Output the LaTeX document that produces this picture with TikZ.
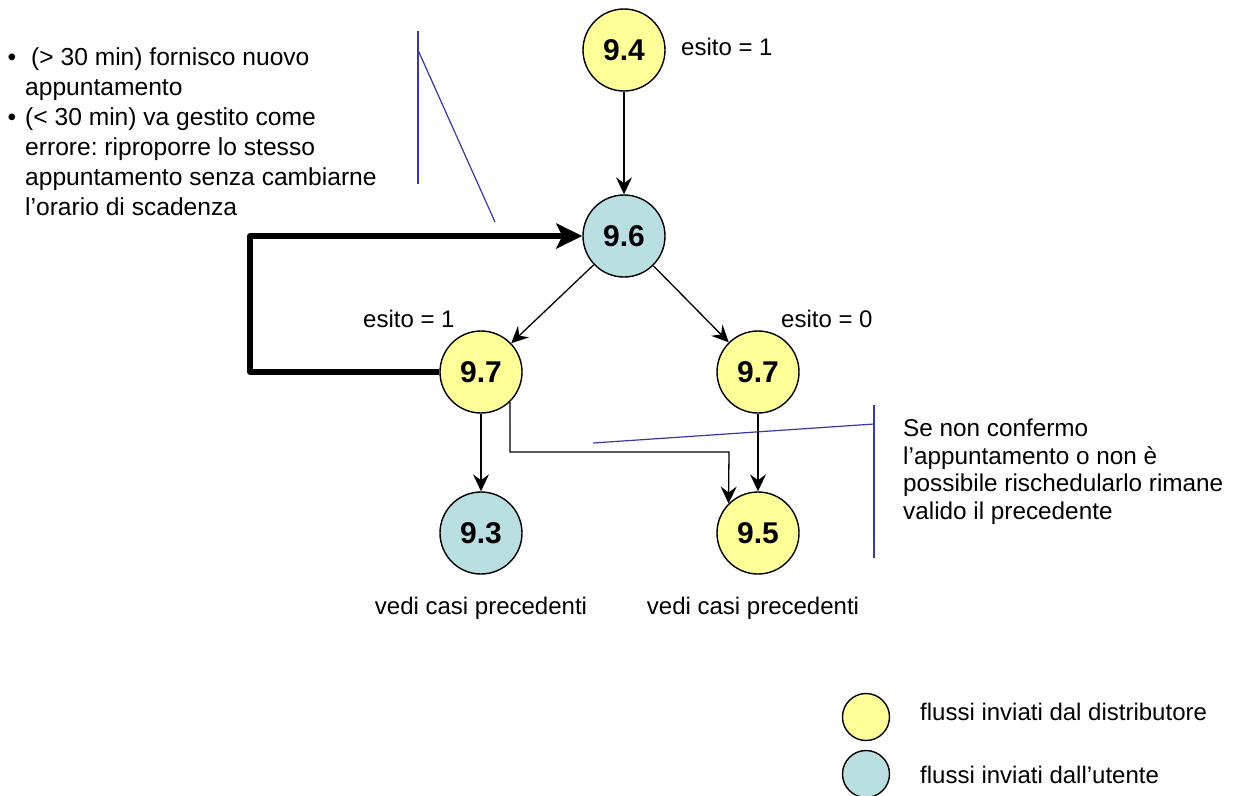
\documentclass[tikz,border=0pt]{standalone}
\usepackage{fontspec}
\setmainfont{Liberation Sans}
\usetikzlibrary{arrows.meta}
\definecolor{ylw}{HTML}{FFFF99}
\definecolor{tl}{HTML}{B9DFE3}
\definecolor{cline}{HTML}{3737A8}
\frenchspacing
\begin{document}
\begin{tikzpicture}[x=1pt,y=-1pt,
  st/.style={circle,draw=black,line width=1.4pt,minimum size=82pt,inner sep=0pt,font=\fontsize{30}{30}\selectfont\bfseries},
  yl/.style={st,fill=ylw},
  bl/.style={st,fill=tl},
  leg/.style={circle,draw=black,line width=1.4pt,minimum size=47pt,inner sep=0pt},
  arr/.style={line width=1.3pt,-{Stealth[length=17pt,width=16pt,inset=6pt]}},
  bigarr/.style={line width=5.5pt,line join=round,-{Stealth[length=26pt,width=25pt,inset=6pt]}},
  lbl/.style={font=\fontsize{24}{27.8}\selectfont,inner sep=0pt},
  call/.style={draw=cline,line width=1.2pt}]
\useasboundingbox (0,0) rectangle (1241,795);

\coordinate (lt) at (250,236);
\coordinate (bend) at (729,452);

\node[yl] (n94) at (624,50) {9.4};
\node[bl] (n96) at (624,236) {9.6};
\node[yl] (l97) at (481,372) {9.7};
\node[yl] (r97) at (758,372) {9.7};
\node[bl] (n93) at (481,533) {9.3};
\node[yl] (n95) at (758,533) {9.5};

\draw[arr] (n94) -- (n96);
\draw[arr] (n96) -- (l97);
\draw[arr] (n96) -- (r97);
\draw[arr] (l97) -- (n93);
\draw[arr] (r97) -- (n95);
\draw[arr] (l97.-46) |- (bend) -- (n95.135);
\draw[bigarr] (l97.west) -| (lt) -- (n96.west);

\node[lbl,anchor=base west] (e1) at (681,55) {esito = 1};
\node[lbl,anchor=base west] (e2) at (363,327) {esito = 1};
\node[lbl,anchor=base west] (e3) at (781,327) {esito = 0};
\node[lbl,anchor=base] (v1) at (481,614) {vedi casi precedenti};
\node[lbl,anchor=base] (v2) at (753,614) {vedi casi precedenti};

\node[lbl,align=left,anchor=north west,font=\fontsize{24.3}{27.8}\selectfont] (note2) at (903,418.5) {Se non confermo\\l’appuntamento o non è\\possibile rischedularlo rimane\\valido il precedente};

\node[lbl,align=left,anchor=north west,font=\fontsize{24.6}{30}\selectfont] (note1) at (25,47.5) {\llap{•\hspace{9pt}}\hspace*{6pt}(> 30 min) fornisco nuovo\\appuntamento\\\llap{•\hspace{9pt}}(< 30 min) va gestito come\\errore: riproporre lo stesso\\appuntamento senza cambiarne\\l’orario di scadenza};

\coordinate (c1a) at (418,31);
\coordinate (c1b) at (418,184);
\coordinate (c1c) at (418,50);
\coordinate (c1d) at (495,222);
\draw[call] (c1a) -- (c1b);
\draw[call] (c1c) -- (c1d);
\coordinate (c2a) at (874,405);
\coordinate (c2b) at (874,558);
\coordinate (c2c) at (874,424);
\coordinate (c2d) at (593,443);
\draw[call] (c2a) -- (c2b);
\draw[call] (c2c) -- (c2d);

\node[leg,fill=ylw] (ly) at (866,717) {};
\node[leg,fill=tl] (lb) at (866,774) {};
\node[lbl,anchor=base west] (lyt) at (920,720) {flussi inviati dal distributore};
\node[lbl,anchor=base west] (lbt) at (920,783) {flussi inviati dall’utente};
\end{tikzpicture}
\end{document}
